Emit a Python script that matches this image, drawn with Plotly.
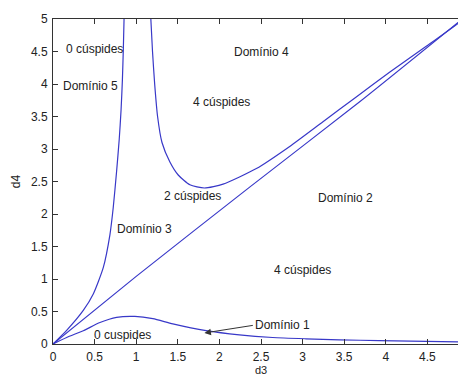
import plotly.graph_objects as go

# Diagonal boundary
diag_d3 = [0, 1.0, 2.36, 3.69, 4.92]
diag_d4 = [0, 1.04, 2.41, 3.73, 5.0]

# Upper curve, left branch
up_left_d3 = [0, 0.164, 0.364, 0.484, 0.604, 0.684, 0.724, 0.764, 0.796, 0.818, 0.834, 0.846, 0.854]
up_left_d4 = [0, 0.21, 0.517, 0.77, 1.175, 1.68, 2.10, 2.65, 3.15, 3.60, 4.06, 4.57, 5.0]

# Upper curve, right branch
up_right_d3 = [1.176, 1.196, 1.222, 1.257, 1.31, 1.405, 1.505, 1.645, 1.82, 2.044, 2.445, 2.845,
               3.245, 3.645, 4.045, 4.486, 4.886, 4.93]
up_right_d4 = [5.0, 4.5, 4.0, 3.5, 3.1, 2.80, 2.60, 2.45, 2.40, 2.46, 2.70, 3.04,
               3.42, 3.80, 4.18, 4.58, 4.95, 5.0]

# Lower curve
low_d3 = [0, 0.164, 0.364, 0.564, 0.764, 0.984, 1.2, 1.44, 1.84, 2.24, 2.64, 3.04, 3.44, 3.92, 4.95]
low_d4 = [0, 0.10, 0.205, 0.33, 0.41, 0.425, 0.39, 0.31, 0.205, 0.14, 0.10, 0.08, 0.064, 0.053, 0.03]

# Labels
label_text = ["0 cúspides", "Domínio 5", "Domínio 4", "4 cúspides", "2 cúspides",
              "Domínio 2", "Domínio 3", "4 cúspides", "0 cuspides", "Domínio 1"]
label_x = [0.50, 0.45, 2.505, 2.03, 1.68, 3.51, 1.10, 3.0, 0.834, 2.755]
label_y = [4.54, 3.97, 4.50, 3.72, 2.27, 2.24, 1.77, 1.14, 0.137, 0.30]

# Arrow (head, tail) for "Domínio 1"
arrow_head = (1.82, 0.17)
arrow_tail = (2.42, 0.29)

x_ticks = [0, 0.5, 1, 1.5, 2, 2.5, 3, 3.5, 4, 4.5]
x_ticklabels = ["0", "0.5", "1", "1.5", "2", "2.5", "3", "3.5", "4", "4.5"]
y_ticks = [0, 0.5, 1, 1.5, 2, 2.5, 3, 3.5, 4, 4.5, 5]
y_ticklabels = ["0", "0.5", "1", "1.5", "2", "2.5", "3", "3.5", "4", "4.5", "5"]

FONT = "Liberation Sans, Arial"
line_color = "#3838c8"
fig = go.Figure()
for xs, ys in [(diag_d3, diag_d4), (up_left_d3, up_left_d4),
               (up_right_d3, up_right_d4), (low_d3, low_d4)]:
    fig.add_trace(go.Scatter(x=xs, y=ys, mode="lines",
                             line=dict(color=line_color, width=1.2, shape="spline", smoothing=0.6),
                             showlegend=False, hoverinfo="skip", cliponaxis=True))

for t, x, y in zip(label_text, label_x, label_y):
    fig.add_annotation(x=x, y=y, text=t, showarrow=False, xref="x", yref="y",
                       font=dict(family=FONT, size=12, color="#222"))

fig.add_annotation(x=arrow_head[0], y=arrow_head[1], ax=arrow_tail[0], ay=arrow_tail[1],
                   axref="x", ayref="y", xref="x", yref="y",
                   text="", showarrow=True, arrowhead=2, arrowsize=1.3, arrowwidth=1, arrowcolor="#333")

# x-axis title (placed just under the tick labels so it stays inside the window)
fig.add_annotation(x=0.5, y=0, xref="paper", yref="paper", text="d3", showarrow=False,
                   yanchor="top", yshift=-19, borderpad=0,
                   font=dict(family=FONT, size=11, color="#222"))

axis_common = dict(showline=True, linecolor="#333", linewidth=1, mirror="ticks", ticks="inside",
                   ticklen=5, tickcolor="#333", showgrid=False, zeroline=False,
                   tickfont=dict(family=FONT, size=12, color="#222"))

fig.update_layout(
    width=466, height=374,
    margin=dict(l=45, r=4, t=7, b=38),
    plot_bgcolor="white", paper_bgcolor="white",
    xaxis=dict(range=[0, 5], tickvals=x_ticks, ticktext=x_ticklabels, ticklabelstandoff=2,
               **axis_common),
    yaxis=dict(range=[0, 5], tickvals=y_ticks, ticktext=y_ticklabels, ticklabelstandoff=2,
               title=dict(text="d4", standoff=7, font=dict(family=FONT, size=12, color="#222")),
               **axis_common),
)

fig.write_html("out.html")
